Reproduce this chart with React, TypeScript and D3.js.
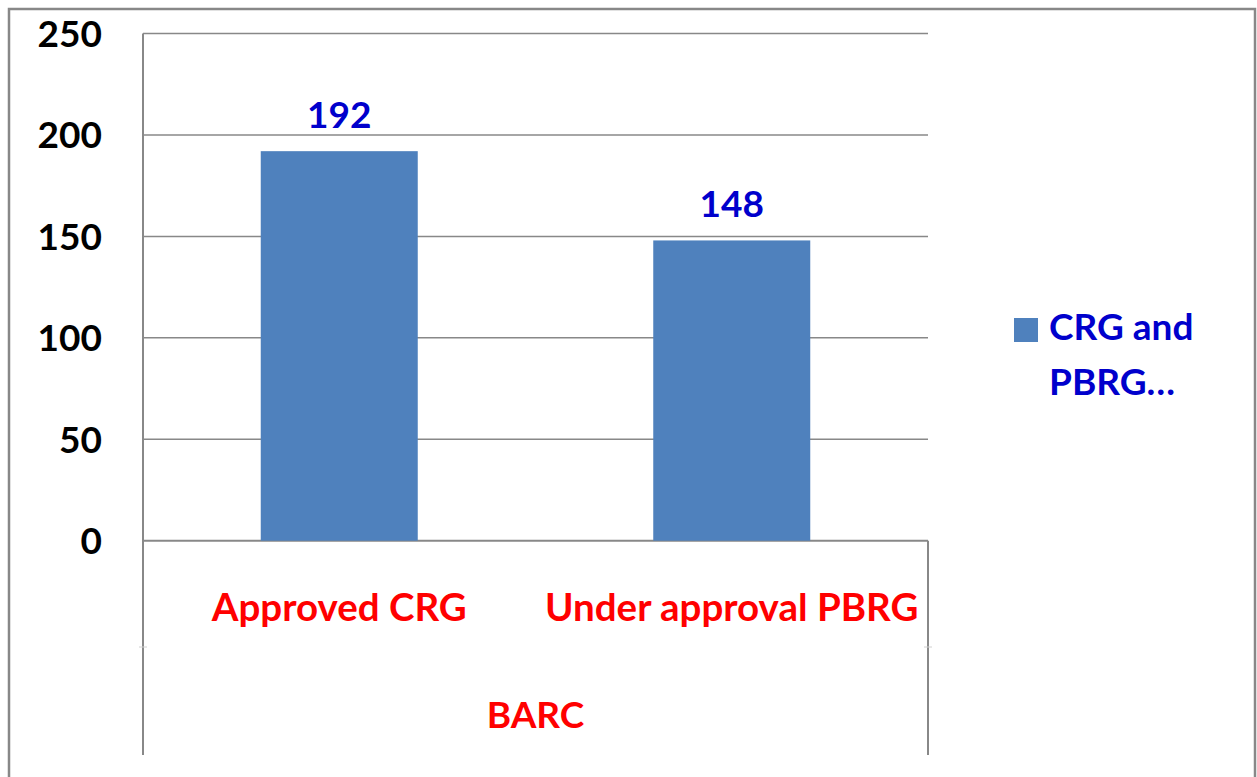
import React from "react";
import * as d3 from "d3";

const categories = ["Approved CRG", "Under approval PBRG"];
const values = [192, 148];
const groupLabel = "BARC";
const seriesName = ["CRG and", "PBRG…"];
const yTicks = [0, 50, 100, 150, 200, 250];

const W = 1257;
const H = 777;
const margin = { top: 33.5, right: 329, bottom: 236.3, left: 143 };
const FONT = "Lato, 'Open Sans', sans-serif";
const BAR = "#4F81BD";
const GRID = "#888888";

export default function App() {
  const plotW = W - margin.left - margin.right;
  const plotH = H - margin.top - margin.bottom;
  const x0 = margin.left;
  const x1 = margin.left + plotW;
  const yBase = margin.top + plotH;

  const x = d3.scaleBand<string>().domain(categories).range([x0, x1]).paddingInner(0.6).paddingOuter(0.3);
  const y = d3.scaleLinear().domain([0, 250]).range([yBase, margin.top]);

  return (
    <div style={{ position: "absolute", left: 0, top: 0 }}>
      <svg width={W} height={H} style={{ display: "block", background: "#fff" }}>
        {/* outer frame */}
        <rect x={9} y={9} width={W - 11} height={H + 20} fill="none" stroke={GRID} strokeWidth={2.5} />

        {/* gridlines */}
        {yTicks.map((t) => (
          <line key={t} x1={x0} x2={x1} y1={y(t)} y2={y(t)} stroke={GRID} strokeWidth={t === 0 ? 2 : 1.5} />
        ))}
        {/* left axis line */}
        <line x1={x0} x2={x0} y1={margin.top} y2={755} stroke={GRID} strokeWidth={2} />
        {/* right category border */}
        <line x1={x1} x2={x1} y1={yBase} y2={755} stroke={GRID} strokeWidth={2} />
        {/* level separators */}
        <line x1={139} x2={147} y1={647} y2={647} stroke="#d0d0d0" strokeWidth={1} />
        <line x1={x1 - 4} x2={x1 + 4} y1={647} y2={647} stroke="#d0d0d0" strokeWidth={1} />

        {/* y tick labels */}
        {yTicks.map((t) => (
          <text key={t} x={102} y={y(t)} dy="0.36em" textAnchor="end" fontFamily={FONT} fontWeight={700} fontSize={37} fill="#000">
            {t}
          </text>
        ))}

        {/* bars */}
        {categories.map((c, i) => (
          <rect key={c} x={x(c)} y={y(values[i])} width={x.bandwidth()} height={yBase - y(values[i])} fill={BAR} />
        ))}

        {/* value labels */}
        {categories.map((c, i) => (
          <text key={c} x={(x(c) ?? 0) + x.bandwidth() / 2} y={y(values[i]) - 23.5} textAnchor="middle" fontFamily={FONT} fontWeight={700} fontSize={37} fill="#0000CC">
            {values[i]}
          </text>
        ))}

        {/* category labels */}
        {categories.map((c) => (
          <text key={c} x={(x(c) ?? 0) + x.bandwidth() / 2} y={620.5} textAnchor="middle" fontFamily={FONT} fontWeight={700} fontSize={38.5} fill="#FF0000">
            {c}
          </text>
        ))}
        <text x={(x0 + x1) / 2} y={728} textAnchor="middle" fontFamily={FONT} fontWeight={700} fontSize={37} fill="#FF0000">
          {groupLabel}
        </text>

        {/* legend */}
        <rect x={1014} y={318} width={24} height={24} fill={BAR} />
        {seriesName.map((s, i) => (
          <text key={s} x={1049} y={340 + i * 55} fontFamily={FONT} fontWeight={700} fontSize={37} fill="#0000CC">
            {s}
          </text>
        ))}
      </svg>
    </div>
  );
}
